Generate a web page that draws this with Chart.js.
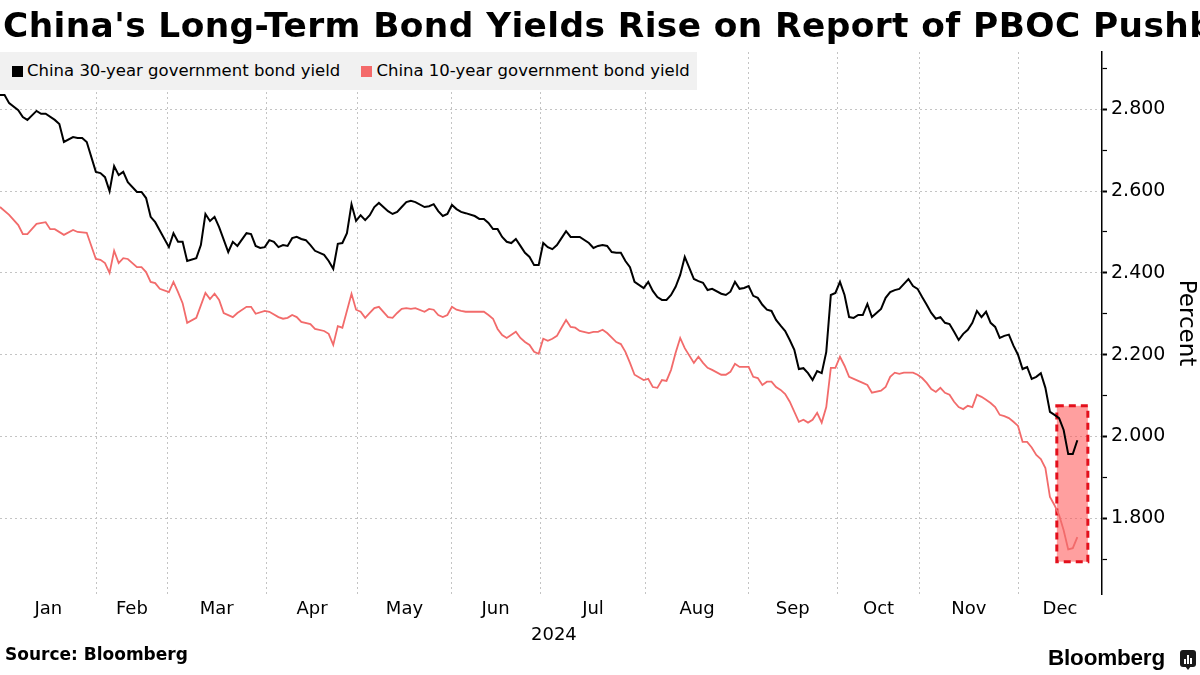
<!DOCTYPE html>
<html>
<head>
<meta charset="utf-8">
<script src="https://cdn.jsdelivr.net/npm/chart.js@4.4.1/dist/chart.umd.min.js"></script>
<style>
  html, body { margin: 0; padding: 0; background: #fff; }
  #wrap { position: relative; width: 1200px; height: 675px; overflow: hidden; font-family: 'DejaVu Sans', sans-serif; color: #000; }
  #chart { position: absolute; left: 0; top: 0; }
  .title { position: absolute; left: 3px; top: 8px; font-weight: bold; font-size: 34.4px; line-height: 34.4px; letter-spacing: 0.4px; white-space: nowrap; }
  .legend { position: absolute; left: 0; top: 52px; width: 697px; height: 38px; background: #f1f1f1; font-size: 16.5px; line-height: 38px; white-space: nowrap; }
  .legend span.sw { display: inline-block; width: 11px; height: 11px; margin: 0 4px 0 0; vertical-align: -1px; }
  .legend .item { display: inline-block; }
  .year { position: absolute; left: 531px; top: 625px; font-size: 18px; line-height: 18px; }
  .source { position: absolute; left: 5px; top: 646px; font-weight: bold; font-size: 17px; line-height: 17px; }
  .brand { position: absolute; left: 1048px; top: 647px; font-family: 'Liberation Sans', sans-serif; font-weight: bold; font-size: 22.5px; line-height: 22.5px; letter-spacing: -0.2px; }
  .icon { position: absolute; left: 1180px; top: 650px; width: 16px; height: 17px; background: #1a1a1a; border-radius: 3px; }
  .icon:after { content: ''; position: absolute; left: 5px; top: 16px; border-left: 3px solid transparent; border-right: 3px solid transparent; border-top: 4px solid #1a1a1a; }
  .icon i { position: absolute; bottom: 3px; width: 2px; background: #fff; }
</style>
</head>
<body>
<div id="wrap">
  <canvas id="chart" width="1200" height="675"></canvas>
  <div class="title">China's Long-Term Bond Yields Rise on Report of PBOC Pushback</div>
  <div class="legend">
    <span class="item" style="margin-left:12px"><span class="sw" style="background:#000"></span>China 30-year government bond yield</span>
    <span class="item" style="margin-left:16px"><span class="sw" style="background:#f46a6a"></span>China 10-year government bond yield</span>
  </div>
  <div class="year">2024</div>
  <div class="source">Source: Bloomberg</div>
  <div class="brand">Bloomberg</div>
  <div class="icon"><i style="left:4px;height:5px"></i><i style="left:7px;height:9px"></i><i style="left:10px;height:6px"></i></div>
</div>
<script>
// x values are trading-day positions in 2024 (0 = Jan 2)
var months = ['Jan', 'Feb', 'Mar', 'Apr', 'May', 'Jun', 'Jul', 'Aug', 'Sep', 'Oct', 'Nov', 'Dec'];
var monthStarts = [0, 21.2, 36.6, 58.3, 78.4, 98.8, 118.3, 141.5, 163.9, 183.4, 201.5, 223];
var axisEnd = 241.4;

var yTicks = [1.7, 1.8, 1.9, 2.0, 2.1, 2.2, 2.3, 2.4, 2.5, 2.6, 2.7, 2.8, 2.9];

var days30 = [0, 1, 2, 4, 5, 6, 8, 9, 10, 12, 13, 14, 16, 17, 18, 19, 21, 22, 23, 24, 25, 26, 27, 28, 30, 31, 32, 33, 34,
  37, 38, 39, 40, 41, 43, 44, 45, 46, 47, 48, 50, 51, 52, 54, 55, 56, 57, 58, 59, 60, 61, 62, 63, 64, 65, 66, 67, 68, 69,
  71, 72, 73, 74, 75, 76, 77, 78, 79, 80, 81, 82, 83, 85, 86, 87, 88, 89, 90, 91, 93, 94, 95, 96, 97, 98, 99, 100,
  101, 102, 104, 105, 106, 107, 108, 109, 110, 111, 112, 113, 114, 115, 116, 117, 118, 119, 120, 121, 122, 123, 124,
  125, 126, 127, 129, 130, 131, 132, 133, 134, 135, 136, 137, 138, 139, 141, 142, 143, 144, 145, 146, 147, 148, 149,
  150, 151, 152, 153, 154, 155, 156, 158, 159, 160, 161, 162, 163, 164, 165, 166, 167, 168, 169, 170, 171, 172, 173,
  174, 175, 176, 177, 178, 179, 180, 181, 182, 183, 184, 185, 186, 187, 188, 189, 190, 191, 192, 193, 194, 195, 196,
  197, 199, 200, 201, 202, 203, 204, 205, 206, 207, 208, 209, 210, 211, 212, 213, 214, 215, 216, 217, 218, 219, 220,
  221, 222, 223, 224, 225, 226, 227, 228, 229, 230, 231, 232, 233, 234, 235, 236];
var yield30 = [2.835, 2.835, 2.815, 2.798, 2.781, 2.774, 2.796, 2.789, 2.789, 2.774, 2.764, 2.720, 2.732, 2.730, 2.730, 2.720,
  2.647, 2.644, 2.634, 2.600, 2.661, 2.639, 2.647, 2.622, 2.598, 2.598, 2.583, 2.537, 2.524,
  2.463, 2.497, 2.476, 2.476, 2.429, 2.436, 2.468, 2.544, 2.527, 2.537, 2.512, 2.451, 2.476, 2.466, 2.497, 2.495, 2.466,
  2.461, 2.463, 2.480, 2.476, 2.463, 2.468, 2.466, 2.485, 2.488, 2.483, 2.480, 2.468, 2.454,
  2.444, 2.429, 2.410, 2.471, 2.473, 2.497, 2.568, 2.527, 2.541, 2.529, 2.541, 2.561, 2.571, 2.551, 2.544, 2.549, 2.561,
  2.573, 2.576, 2.573, 2.561, 2.563, 2.568, 2.551, 2.539, 2.544, 2.566, 2.556,
  2.549, 2.546, 2.539, 2.532, 2.532, 2.522, 2.507, 2.507, 2.488, 2.476, 2.473, 2.483, 2.466, 2.449, 2.439, 2.419, 2.419,
  2.473, 2.463, 2.458, 2.468, 2.485, 2.502,
  2.488, 2.488, 2.488, 2.473, 2.461, 2.466, 2.468, 2.466, 2.451, 2.449, 2.449, 2.429, 2.414, 2.378, 2.363, 2.378, 2.356,
  2.341, 2.334, 2.334, 2.346, 2.366, 2.395,
  2.439, 2.412, 2.385, 2.380, 2.376, 2.358, 2.361, 2.349, 2.346, 2.354, 2.378, 2.361, 2.363, 2.368, 2.344, 2.339, 2.322,
  2.310, 2.307, 2.285, 2.271, 2.258, 2.236,
  2.212, 2.165, 2.167, 2.155, 2.138, 2.160, 2.155, 2.207, 2.346, 2.351, 2.378, 2.346, 2.292, 2.290, 2.297, 2.297, 2.324,
  2.292, 2.302, 2.312, 2.339, 2.353, 2.358,
  2.361, 2.385, 2.368, 2.361, 2.341, 2.322, 2.302, 2.288, 2.292, 2.278, 2.275, 2.256, 2.236, 2.251, 2.261, 2.278, 2.307,
  2.292, 2.305, 2.278, 2.268, 2.241, 2.246,
  2.249, 2.222, 2.200, 2.165, 2.170, 2.141, 2.146, 2.155, 2.119, 2.060, 2.053, 2.045, 2.016, 1.957, 1.957, 1.991];

var days10 = [0, 2, 4, 5, 6, 8, 10, 11, 12, 14, 16, 17, 19, 21, 22, 23, 24, 25, 26, 27, 28, 30, 31, 32, 33, 34, 35, 37, 38,
  39, 40, 41, 43, 45, 46, 47, 48, 49, 51, 52, 54, 55, 56, 58, 59, 61, 62, 63, 64, 65, 66, 68, 69, 71, 72, 73, 74, 75,
  77, 78, 79, 80, 81, 82, 83, 85, 86, 87, 88, 89, 90, 91, 93, 94, 95, 96, 97, 98, 99, 100, 101, 102, 104, 105, 106,
  107, 108, 109, 110, 111, 113, 114, 115, 116, 117, 118, 119, 120, 121, 122, 123, 124, 125, 126, 127, 129, 130, 131,
  132, 133, 135, 136, 137, 138, 139, 141, 142, 143, 144, 145, 146, 147, 148, 149, 150, 152, 153, 154, 155, 156, 158,
  159, 160, 161, 162, 163, 164, 165, 166, 167, 168, 169, 170, 171, 172, 173, 175, 176, 177, 178, 179, 180, 181, 182,
  183, 184, 185, 186, 188, 189, 190, 191, 193, 194, 195, 196, 197, 198, 200, 201, 202, 203, 204, 205, 206, 207, 208,
  209, 210, 211, 212, 213, 214, 215, 216, 217, 218, 219, 220, 221, 222, 223, 224, 225, 226, 227, 228, 229, 230, 231,
  232, 233, 234, 235, 236];
var yield10 = [2.561, 2.542, 2.517, 2.495, 2.495, 2.520, 2.524, 2.507, 2.507, 2.493, 2.505, 2.500, 2.498, 2.434, 2.432,
  2.424, 2.400, 2.454, 2.424, 2.436, 2.434, 2.414, 2.414, 2.402, 2.378, 2.375, 2.361, 2.353, 2.378,
  2.353, 2.326, 2.278, 2.290, 2.351, 2.336, 2.349, 2.334, 2.302, 2.292, 2.302, 2.317, 2.317, 2.300, 2.307, 2.305, 2.292,
  2.288, 2.290, 2.297, 2.292, 2.280, 2.275, 2.263, 2.258, 2.251, 2.224, 2.270, 2.266,
  2.349, 2.310, 2.305, 2.290, 2.302, 2.314, 2.317, 2.292, 2.290, 2.302, 2.312, 2.314, 2.312, 2.314, 2.305, 2.312, 2.310,
  2.297, 2.292, 2.297, 2.317, 2.310, 2.307, 2.305, 2.305, 2.305, 2.305,
  2.297, 2.288, 2.263, 2.248, 2.241, 2.256, 2.241, 2.231, 2.224, 2.207, 2.202, 2.239, 2.234, 2.239, 2.246, 2.266, 2.285,
  2.268, 2.266, 2.258, 2.253, 2.256, 2.256,
  2.261, 2.253, 2.231, 2.226, 2.207, 2.180, 2.151, 2.138, 2.141, 2.121, 2.119, 2.138, 2.136, 2.163, 2.205, 2.241, 2.216,
  2.180, 2.195, 2.180, 2.168, 2.163, 2.151,
  2.151, 2.158, 2.178, 2.170, 2.170, 2.170, 2.146, 2.143, 2.126, 2.134, 2.134, 2.121, 2.114, 2.104, 2.085, 2.036, 2.041,
  2.034, 2.041, 2.058, 2.034, 2.072, 2.168,
  2.168, 2.195, 2.173, 2.146, 2.136, 2.131, 2.126, 2.107, 2.112, 2.121, 2.146, 2.156, 2.153, 2.156, 2.156, 2.151, 2.143,
  2.131, 2.116, 2.109, 2.119, 2.107, 2.102,
  2.085, 2.072, 2.067, 2.075, 2.072, 2.102, 2.097, 2.090, 2.082, 2.072, 2.053, 2.050, 2.045, 2.036, 2.026, 1.987, 1.987,
  1.973, 1.955, 1.945, 1.923, 1.852, 1.832,
  1.808, 1.771, 1.724, 1.727, 1.754];

// highlighted window (pushback report)
var boxDays = [231.5, 238.3];
var boxYields = [1.694, 2.075];

function toPoints(xs, ys) {
  return xs.map(function(d, i) { return {x: d, y: ys[i]}; });
}

var monthMids = monthStarts.map(function(s, i) {
  var e = i + 1 < monthStarts.length ? monthStarts[i + 1] : axisEnd;
  return (s + e) / 2;
});

var highlightBox = {
  id: 'highlightBox',
  beforeDatasetsDraw: function(chart) {
    var ctx = chart.ctx, x = chart.scales.x, y = chart.scales.y;
    var l = x.getPixelForValue(boxDays[0]), r = x.getPixelForValue(boxDays[1]);
    var t = y.getPixelForValue(boxYields[1]), b = y.getPixelForValue(boxYields[0]);
    ctx.save();
    ctx.fillStyle = 'rgba(255, 80, 80, 0.55)';
    ctx.fillRect(l, t, r - l, b - t);
    ctx.setLineDash([7, 5]);
    ctx.lineWidth = 3;
    ctx.strokeStyle = '#e3101c';
    ctx.strokeRect(l, t, r - l, b - t);
    ctx.restore();
  }
};

Chart.defaults.font.family = "'DejaVu Sans', sans-serif";
Chart.defaults.color = '#000';

new Chart(document.getElementById('chart'), {
  type: 'line',
  data: {
    datasets: [
      {
        label: 'China 30-year government bond yield',
        data: toPoints(days30, yield30),
        borderColor: '#000',
        borderWidth: 2,
        pointRadius: 0,
        tension: 0
      },
      {
        label: 'China 10-year government bond yield',
        data: toPoints(days10, yield10),
        borderColor: '#f26b6b',
        borderWidth: 1.8,
        pointRadius: 0,
        tension: 0
      }
    ]
  },
  options: {
    responsive: false,
    animation: false,
    devicePixelRatio: 1,
    layout: { padding: { top: 52, left: 0, right: 0, bottom: 0 } },
    plugins: { legend: { display: false }, tooltip: { enabled: false } },
    scales: {
      x: {
        type: 'linear',
        min: 0,
        max: axisEnd,
        afterBuildTicks: function(scale) {
          var vals = monthStarts.slice(1).concat(monthMids).sort(function(a, b) { return a - b; });
          scale.ticks = vals.map(function(v) { return {value: v}; });
        },
        afterFit: function(scale) { scale.height = 81; },
        ticks: {
          autoSkip: false,
          maxRotation: 0,
          padding: 5,
          font: { size: 18 },
          callback: function(value) {
            var i = monthMids.indexOf(value);
            return i >= 0 ? months[i] : '';
          }
        },
        grid: {
          drawTicks: false,
          lineWidth: 1,
          color: function(ctx) {
            return ctx.tick && monthMids.indexOf(ctx.tick.value) < 0 ? '#c4c4c4' : 'rgba(0,0,0,0)';
          }
        },
        border: { display: false, dash: [2, 3] }
      },
      y: {
        position: 'right',
        min: 1.615,
        max: 2.94,
        afterBuildTicks: function(scale) {
          scale.ticks = yTicks.map(function(v) { return {value: v}; });
        },
        afterFit: function(scale) { scale.width = 98; },
        ticks: {
          padding: 4,
          font: { size: 19 },
          callback: function(value) {
            return Math.round(value * 10) % 2 === 0 ? value.toFixed(3) : '';
          }
        },
        grid: {
          tickLength: 5,
          tickColor: '#000',
          tickWidth: function(ctx) {
            return ctx.tick && Math.round(ctx.tick.value * 10) % 2 === 0 ? 2 : 1.2;
          },
          color: function(ctx) {
            return ctx.tick && Math.round(ctx.tick.value * 10) % 2 === 0 ? '#c4c4c4' : 'rgba(0,0,0,0)';
          }
        },
        border: { display: true, color: '#000', width: 1.5, dash: [2, 3] },
        title: {
          display: true,
          text: 'Percent',
          font: { size: 23 },
          padding: { top: 0, bottom: 1 }
        }
      }
    }
  },
  plugins: [highlightBox]
});
</script>
</body>
</html>
